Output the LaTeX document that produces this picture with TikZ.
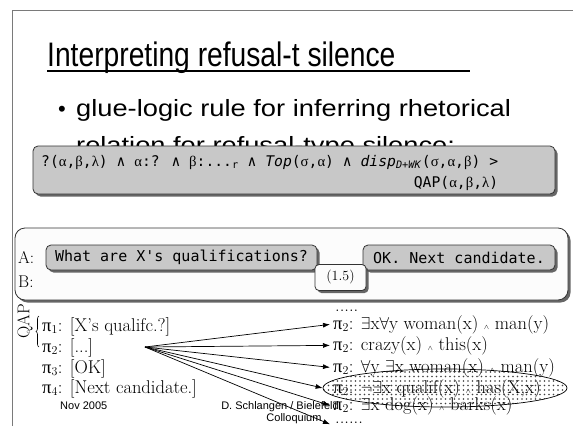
\documentclass[tikz,border=0pt]{standalone}
\usepackage{fontspec}
\usepackage{graphicx}
\newfontfamily\slidefont{Liberation Sans}
\newfontfamily\codefont{DejaVu Sans Mono}
\newfontfamily\greekfont{Liberation Serif}
\newcommand\gk[1]{{\greekfont #1}}
\newcommand\listfont{\fontfamily{lmr}\fontsize{18.5}{18.5}\selectfont}
\newcommand\smalland{ {\scriptsize$\wedge$} }
\usetikzlibrary{shadows,patterns,arrows.meta,decorations.pathreplacing,shapes.geometric}

% coarse dot fill for the highlighted reading
\pgfdeclarepatternformonly{coarse dots}{\pgfqpoint{-1pt}{-1pt}}{\pgfqpoint{1pt}{1pt}}{\pgfqpoint{4.5pt}{4.5pt}}{\pgfpathcircle{\pgfpointorigin}{0.85pt}\pgfusepath{fill}}

\definecolor{boxgray}{HTML}{C8C8C8}
\definecolor{framegray}{HTML}{7A7A7A}
\definecolor{paper}{HTML}{FCFCFC}

\begin{document}
\begin{tikzpicture}[x=1pt,y=-1pt,
  boxshadow/.style={drop shadow={shadow xshift=2.5pt,shadow yshift=-2.5pt,fill=black!70,opacity=.85}},
  graybox/.style={draw=black!80,line width=.8pt,fill=boxgray,rounded corners=5pt,boxshadow},
  lightbox/.style={draw=black!80,line width=.8pt,fill=paper,rounded corners=5pt,boxshadow},
  utter/.style={graybox,minimum height=25pt,inner sep=0pt,font=\codefont\fontsize{15}{15}\selectfont},
  listitem/.style={anchor=base west,inner sep=0pt,font=\listfont},
  footer/.style={inner sep=0pt,font=\slidefont\fontsize{11}{11}\selectfont},
  fan/.style={line width=.7pt,-{Latex[length=7pt,width=5pt]}}
]
\useasboundingbox (0,0) rectangle (573,426);
\fill[white] (0,0) rectangle (573,426);

% slide frame
\draw[framegray,line width=1pt] (12,426) -- (12,10) -- (573,10);

% title and bullet
\node[anchor=base west,inner sep=0pt] (title) at (47,66)
  {\scalebox{0.83}[1]{\slidefont\fontsize{34}{34}\selectfont Interpreting refusal-t silence}};
\draw[line width=1.2pt] (47,71) -- (470,71);
\node[anchor=base west,inner sep=0pt] (bullet) at (58,116) {\slidefont\fontsize{22}{22}\selectfont •};
\node[anchor=base west,inner sep=0pt] (line1) at (76,116)
  {\scalebox{1.16}[1]{\slidefont\fontsize{23.5}{23.5}\selectfont glue-logic rule for inferring rhetorical}};
\node[anchor=base west,inner sep=0pt] (line2) at (76,153)
  {\scalebox{1.16}[1]{\slidefont\fontsize{23.5}{23.5}\selectfont relation for refusal-type silence:}};

% glue-logic rule
\node[graybox,minimum width=522pt,minimum height=48pt,inner sep=0pt] (rulebox) at (294,170) {};
\node[anchor=north west,align=right,inner sep=0pt,
      font=\codefont\fontsize{14.7}{21}\selectfont] (rule) at (41,155)
  {?(\gk{α},\gk{β},\gk{λ}) ∧ \gk{α}:? ∧ \gk{β}:...\textsubscript{r} ∧ \textit{Top}(\gk{σ},\gk{α}) ∧
   \textit{disp}\textsubscript{\textit{D+WK}}(\gk{σ},\gk{α},\gk{β}) >\\
   QAP(\gk{α},\gk{β},\gk{λ})};

% dialogue
\node[lightbox,rounded corners=10pt,minimum width=553pt,minimum height=72pt,inner sep=0pt] (dialog) at (291.5,264) {};
\node[anchor=base west,inner sep=0pt,font=\fontfamily{lmr}\fontsize{17}{17}\selectfont] (spkA) at (18,263) {A:};
\node[anchor=base west,inner sep=0pt,font=\fontfamily{lmr}\fontsize{17}{17}\selectfont] (spkB) at (18,287) {B:};
\node[utter,minimum width=271pt] (ask) at (181.5,257.5) {What are X's qualifications?};
\node[utter,minimum width=192pt] (next) at (459,257.5) {OK. Next candidate.};
\node[lightbox,rounded corners=4pt,minimum width=51pt,minimum height=26pt,inner sep=0pt,
      font=\fontfamily{lmr}\fontsize{14}{14}\selectfont] (pause) at (340.5,277.5) {(1.5)};

% QAP segments
\node[rotate=90,inner sep=0pt,font=\fontfamily{lmr}\fontsize{17}{17}\selectfont] (qap) at (25,321) {QAP};
\draw[line width=.6pt,decorate,decoration={brace,amplitude=3pt}] (39,347) -- (39,316);
\node[listitem] (p1) at (42,331) {\gk{π}$_1$: [X's qualifc.?]};
\node[listitem] (p2) at (42,352) {\gk{π}$_2$: [...]};
\node[listitem] (p3) at (42,373) {\gk{π}$_3$: [OK]};
\node[listitem] (p4) at (42,393) {\gk{π}$_4$: [Next candidate.]};
\coordinate (src) at (145,347);

% candidate readings
\node[listitem] (dtop) at (335,311) {.....};
\node[listitem] (r1) at (333,329) {\gk{π}$_2$: $\exists$x$\forall$y woman(x)\smalland man(y)};
\node[listitem] (r2) at (333,350) {\gk{π}$_2$: crazy(x)\smalland this(x)};
\node[listitem] (r3) at (333,372) {\gk{π}$_2$: $\forall$y $\exists$x woman(x)\smalland man(y)};
\node[listitem] (r4) at (333,393) {\gk{π}$_2$: $\neg\exists$x qualif(x)\smalland has(X,x)};
\node[listitem] (r5) at (333,410) {\gk{π}$_2$: $\exists$x dog(x)\smalland barks(x)};
\node[listitem] (dbot) at (335,423) {......};
\node[ellipse,draw,line width=.7pt,pattern=coarse dots,pattern color=black!75,
      minimum width=244pt,minimum height=38pt,inner sep=0pt] (oval) at (445,388) {};

\draw[fan] (src) -- ([xshift=-3pt]r1.west);
\draw[fan] (src) -- ([xshift=-3pt]r2.west);
\draw[fan] (src) -- ([xshift=-3pt]r3.west);
\draw[fan] (src) -- (oval.west);
\draw[fan] (src) -- ([xshift=-3pt]r5.west);
\draw[fan] (src) -- ([xshift=-5pt,yshift=-2pt]dbot.west);

% footer
\node[footer,anchor=base west] (date) at (60,409) {Nov 2005};
\node[footer,anchor=base] (author) at (280,409) {D. Schlangen / Bielefeld};
\node[footer,anchor=base] (venue) at (294,421) {Colloquium};
\end{tikzpicture}
\end{document}
